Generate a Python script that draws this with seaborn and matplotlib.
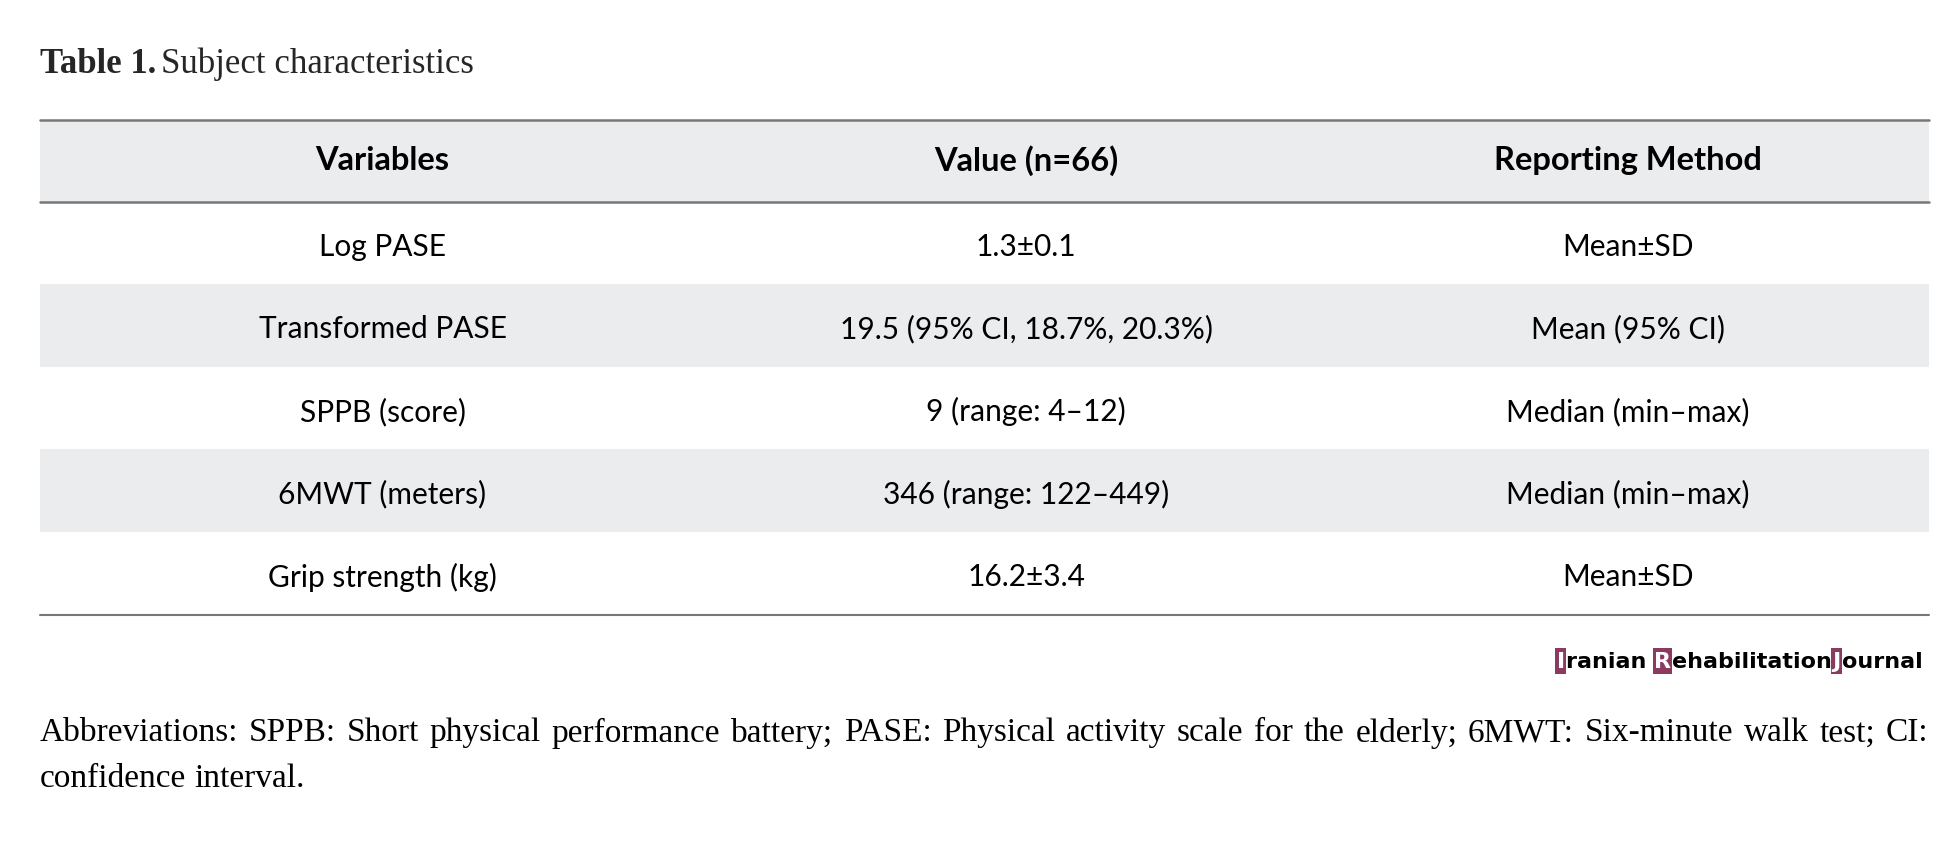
import matplotlib
matplotlib.use("Agg")
import matplotlib.pyplot as plt
import seaborn as sns
from matplotlib.patches import Rectangle

# 표 데이터
columns = ["Variables", "Value (n=66)", "Reporting Method"]
variables = ["Log PASE", "Transformed PASE", "SPPB (score)", "6MWT (meters)", "Grip strength (kg)"]
values = ["1.3±0.1", "19.5 (95% CI, 18.7%, 20.3%)", "9 (range: 4–12)", "346 (range: 122–449)", "16.2±3.4"]
methods = ["Mean±SD", "Mean (95% CI)", "Median (min–max)", "Median (min–max)", "Mean±SD"]
footnote = ("Abbreviations: SPPB: Short physical performance battery; PASE: Physical activity scale for the elderly; "
            "6MWT: Six-minute walk test; CI: confidence interval.")

sns.set_theme(style="white")
W, H = 1568, 685
fig = plt.figure(figsize=(19.41, 8.47), dpi=100)
ax = fig.add_axes([0, 0, 1, 1])
ax.set_xlim(0, W)
ax.set_ylim(H, 0)
ax.axis("off")

sans = "Lato"
serif = "Liberation Serif"
gray = "#ebecee"
left, right = 32, 1558
col_x = [309, 829, 1315]
top, head_bot, row_h = 97, 163, 66.8

# 헤더
ax.add_patch(Rectangle((left, top), right - left, head_bot - top, color=gray, lw=0))
for x, c in zip(col_x, columns):
    ax.text(x, (top + head_bot) / 2, c, ha="center", va="center", fontsize=23.5, fontweight="bold",
            family=sans, color="black")

for i, (v, val, m) in enumerate(zip(variables, values, methods)):
    y0 = head_bot + i * row_h
    if i % 2 == 1:
        ax.add_patch(Rectangle((left, y0), right - left, row_h, color=gray, lw=0))
    for x, t in zip(col_x, (v, val, m)):
        ax.text(x, y0 + row_h / 2 + 3, t, ha="center", va="center", fontsize=21.5, family=sans, color="black")

bottom = head_bot + len(variables) * row_h
for y, lw in [(top, 1.8), (head_bot, 1.8), (bottom, 1.5)]:
    ax.plot([left, right], [y, y], color="#777777", lw=lw)

# 제목
t1 = ax.text(left, 52, "Table 1.", ha="left", va="center", fontsize=25, fontweight="bold", family=serif)
fig.canvas.draw()
r = fig.canvas.get_renderer()
sx = W / fig.bbox.width


def wpx(t):
    return t.get_window_extent(r).width * sx


ax.text(left + wpx(t1) + 4, 52, "Subject characteristics", ha="left", va="center", fontsize=25, family=serif)

# 로고
lfs = 16
parts = [("I", True), ("ranian ", False), ("R", True), ("ehabilitation", False), ("J", True), ("ournal", False)]
tmp = [ax.text(0, 0, p, fontsize=lfs, fontweight="bold", family="DejaVu Sans") for p, _ in parts]
widths = [wpx(t) for t in tmp]
for t in tmp:
    t.remove()
x = right - sum(widths) - 8
for (p, boxed), w in zip(parts, widths):
    if boxed:
        ax.add_patch(Rectangle((x - 1, 524), w + 2, 21, color="#8b3a62", lw=0))
    ax.text(x, 535, p, ha="left", va="center", fontsize=lfs, fontweight="bold",
            family="DejaVu Sans", color="white" if boxed else "black")
    x += w + (1 if boxed else 0)

# 각주 (양쪽 정렬)
words = footnote.split(" ")
fs = 24
wt = [ax.text(0, 0, w_, fontsize=fs, family=serif) for w_ in words]
ww = [wpx(t) for t in wt]
for t in wt:
    t.remove()
ta = ax.text(0, 0, "a a", fontsize=fs, family=serif)
tb = ax.text(0, 0, "a", fontsize=fs, family=serif)
space = wpx(ta) - 2 * wpx(tb)
ta.remove()
tb.remove()
lines, cur, curw = [], [], 0
for w_, wd in zip(words, ww):
    if cur and curw + space + wd > right - left:
        lines.append((cur, curw))
        cur, curw = [], 0
    curw += (space if cur else 0) + wd
    cur.append((w_, wd))
lines.append((cur, curw))
for li, (ln, lw_) in enumerate(lines):
    y = 593 + li * 37
    last = li == len(lines) - 1
    gap = space if last or len(ln) == 1 else space + (right - left - lw_) / (len(ln) - 1)
    x = left
    for w_, wd in ln:
        ax.text(x, y, w_, ha="left", va="center", fontsize=fs, family=serif, color="black")
        x += wd + gap

fig.savefig("out.png", dpi=100, facecolor="white")
